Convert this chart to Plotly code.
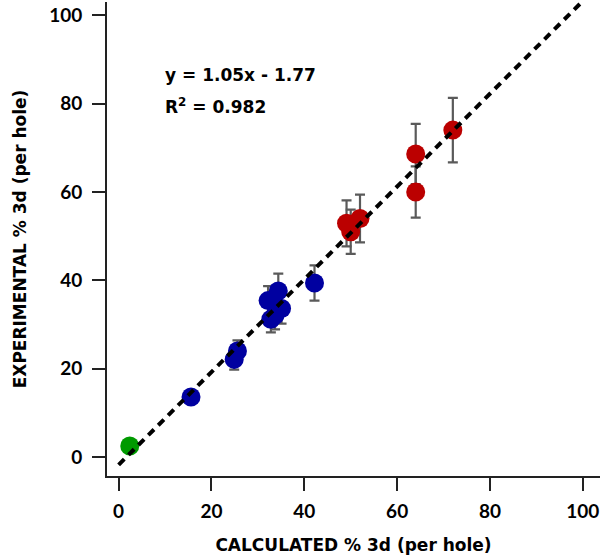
import plotly.graph_objects as go

# ---- data ----
green_x = [2.4]
green_y = [2.5]
green_err = [0.3]

blue_x = [15.6, 24.9, 25.6, 32.2, 32.8, 33.7, 34.4, 35.1, 42.2]
blue_y = [13.6, 22.1, 24.0, 35.4, 31.2, 32.1, 37.6, 33.6, 39.4]
blue_err = [1.4, 2.3, 2.4, 3.3, 3.0, 3.2, 3.9, 3.4, 4.0]

red_x = [49.1, 50.0, 52.0, 64.0, 64.0, 72.0]
red_y = [52.9, 51.0, 54.0, 60.0, 68.6, 74.0]
red_err = [5.2, 5.0, 5.4, 5.8, 6.8, 7.3]

fit_slope = 1.05
fit_intercept = -1.77
fit_x = [0, 100]
fit_y = [fit_slope * v + fit_intercept for v in fit_x]

x_ticks = [0, 20, 40, 60, 80, 100]
y_ticks = [0, 20, 40, 60, 80, 100]

TICK_FONT = "Lato"
TEXT_FONT = "DejaVu Sans"
ERR_COLOR = "#5a5a5a"

fig = go.Figure()


def add_series(xs, ys, errs, color):
    fig.add_trace(go.Scatter(
        x=xs, y=ys, mode="markers",
        marker=dict(size=19, color=color, line=dict(width=0)),
        error_y=dict(type="data", array=errs, visible=True,
                     color=ERR_COLOR, thickness=2.2, width=5),
        showlegend=False, hoverinfo="skip",
    ))


add_series(red_x, red_y, red_err, "#BB0000")
add_series(blue_x, blue_y, blue_err, "#0000A0")
add_series(green_x, green_y, green_err, "#009A00")

fig.add_trace(go.Scatter(
    x=fit_x, y=fit_y, mode="lines",
    line=dict(color="black", width=4, dash="8px,6px"),
    showlegend=False, hoverinfo="skip",
))

ann_font = dict(family=TEXT_FONT, size=17, color="black", weight="bold")
fig.add_annotation(x=9.5, y=86.4, xref="x", yref="y", xanchor="left",
                   yanchor="middle", showarrow=False,
                   text="y = 1.05x - 1.77", font=ann_font)
fig.add_annotation(x=9.5, y=79.4, xref="x", yref="y", xanchor="left",
                   yanchor="middle", showarrow=False,
                   text="R<sup>2</sup> = 0.982", font=ann_font)

axis_common = dict(
    showgrid=False, zeroline=False, showline=True, linecolor="#222",
    linewidth=1.6, ticks="outside", ticklen=13, tickwidth=1.6,
    tickcolor="#222", mirror=False, automargin=False,
    ticklabeloverflow="allow",
    tickfont=dict(family=TICK_FONT, size=19, color="black", weight="bold"),
)
title_font = dict(family=TEXT_FONT, size=17, color="black", weight="bold")

fig.update_layout(
    width=600, height=555,
    margin=dict(l=107, r=0, t=2, b=79),
    plot_bgcolor="white", paper_bgcolor="white",
    xaxis=dict(range=[-2.5, 103.7], tickvals=x_ticks, ticklabelstandoff=4,
               title=dict(text="CALCULATED % 3d (per hole)", standoff=19,
                          font=title_font),
               **axis_common),
    yaxis=dict(range=[-4.3, 103], tickvals=y_ticks, ticklabelstandoff=6,
               title=dict(text="EXPERIMENTAL % 3d (per hole)", standoff=18,
                          font=title_font),
               **axis_common),
)

fig.write_html("out.html",
               config={"displayModeBar": False},
               post_script="document.body.style.margin='0';")
